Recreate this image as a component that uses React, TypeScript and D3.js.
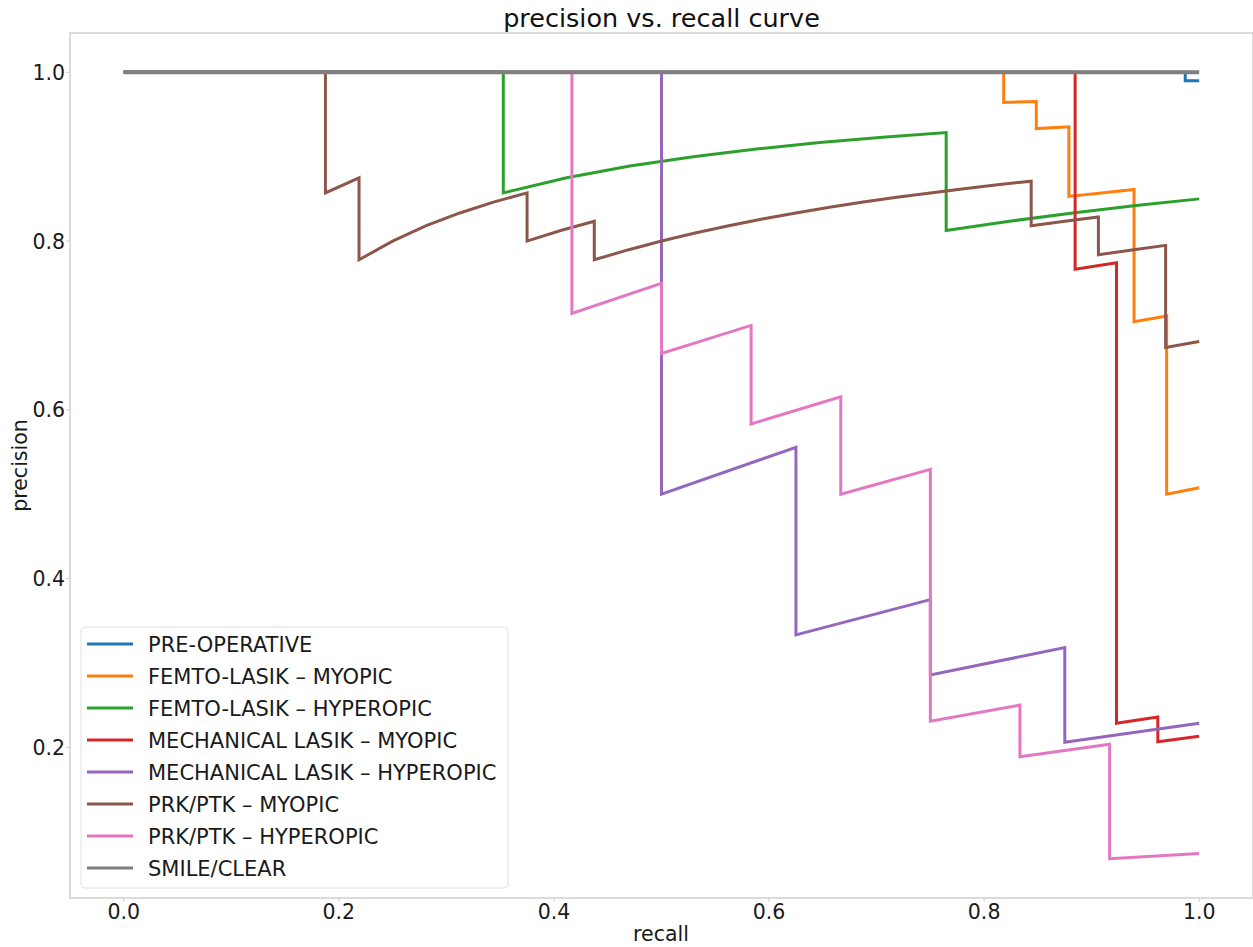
import React from 'react';
import * as d3 from 'd3';

// series labels + tab10 colours, in plot order
const labels = [
    'PRE-OPERATIVE',
    'FEMTO-LASIK – MYOPIC',
    'FEMTO-LASIK – HYPEROPIC',
    'MECHANICAL LASIK – MYOPIC',
    'MECHANICAL LASIK – HYPEROPIC',
    'PRK/PTK – MYOPIC',
    'PRK/PTK – HYPEROPIC',
    'SMILE/CLEAR',
];
const colors = ['#1f77b4', '#ff7f0e', '#2ca02c', '#d62728', '#9467bd', '#8c564b', '#e377c2', '#7f7f7f'];

// recall / precision pairs
const preOpRecall = [0, 0.987, 0.987, 1];
const preOpPrecision = [1, 1, 0.99, 0.99];

const femtoMyoRecall = [0, 0.8182, 0.8182, 0.8485, 0.8485, 0.8788, 0.8788, 0.9091, 0.9394, 0.9394, 0.9697, 0.9697, 1];
const femtoMyoPrecision = [1, 1, 0.9643, 0.9655, 0.9333, 0.9355, 0.8529, 0.8571, 0.8611, 0.7045, 0.7111, 0.5, 0.5077];

const femtoHypRecall = [0, 0.3529, 0.3529, 0.4118, 0.4706, 0.5294, 0.5882, 0.6471, 0.7059, 0.7647, 0.7647, 0.8235, 0.8824, 0.9412, 1];
const femtoHypPrecision = [1, 1, 0.8571, 0.875, 0.8889, 0.9, 0.9091, 0.9167, 0.9231, 0.9286, 0.8125, 0.8235, 0.8333, 0.8421, 0.85];

const mechMyoRecall = [0, 0.8846, 0.8846, 0.9231, 0.9231, 0.9615, 0.9615, 1];
const mechMyoPrecision = [1, 1, 0.7667, 0.7742, 0.2286, 0.2358, 0.2066, 0.2131];

const mechHypRecall = [0, 0.5, 0.5, 0.625, 0.625, 0.75, 0.75, 0.875, 0.875, 1];
const mechHypPrecision = [1, 1, 0.5, 0.5556, 0.3333, 0.375, 0.2857, 0.3182, 0.2059, 0.2286];

const prkMyoRecall = [0, 0.1875, 0.1875, 0.21875, 0.21875, 0.25, 0.28125, 0.3125, 0.34375, 0.375, 0.375, 0.40625, 0.4375, 0.4375,
    0.46875, 0.5, 0.53125, 0.5625, 0.59375, 0.625, 0.65625, 0.6875, 0.71875, 0.75, 0.78125, 0.8125, 0.84375, 0.84375,
    0.875, 0.90625, 0.90625, 0.9375, 0.96875, 0.96875, 1];
const prkMyoPrecision = [1, 1, 0.8571, 0.875, 0.7778, 0.8, 0.8182, 0.8333, 0.8462, 0.8571, 0.8, 0.8125, 0.8235, 0.7778,
    0.7895, 0.8, 0.8095, 0.8182, 0.8261, 0.8333, 0.84, 0.8462, 0.8519, 0.8571, 0.8621, 0.8667, 0.871, 0.8182,
    0.8235, 0.8286, 0.7838, 0.7895, 0.7949, 0.6739, 0.6809];

const prkHypRecall = [0, 0.4167, 0.4167, 0.5, 0.5, 0.5833, 0.5833, 0.6667, 0.6667, 0.75, 0.75, 0.8333, 0.8333, 0.9167, 0.9167, 1];
const prkHypPrecision = [1, 1, 0.7143, 0.75, 0.6667, 0.7, 0.5833, 0.6154, 0.5, 0.5294, 0.2308, 0.25, 0.1887, 0.2037, 0.0679, 0.0741];

const smileRecall = [0, 1];
const smilePrecision = [1, 1];

const xTicks = [0, 0.2, 0.4, 0.6, 0.8, 1.0];
const yTicks = [0.2, 0.4, 0.6, 0.8, 1.0];

const W = 1253, H = 947;
const left = 70, right = 1253, top = 33, bottom = 898;

const App = () => {
    const series = [
        [preOpRecall, preOpPrecision],
        [femtoMyoRecall, femtoMyoPrecision],
        [femtoHypRecall, femtoHypPrecision],
        [mechMyoRecall, mechMyoPrecision],
        [mechHypRecall, mechHypPrecision],
        [prkMyoRecall, prkMyoPrecision],
        [prkHypRecall, prkHypPrecision],
        [smileRecall, smilePrecision],
    ];

    const x = d3.scaleLinear().domain([-0.05, 1.05]).range([left, right]);
    const y = d3.scaleLinear().domain([0.0214, 1.0466]).range([bottom, top]);
    const line = d3.line<[number, number]>().x(d => x(d[0])).y(d => y(d[1]));

    const legX = 81, legY = 627, rowH = 32;

    return (
        <svg width={W} height={H} style={{ position: 'absolute', left: 0, top: 0, background: '#fff' }}
            fontFamily="'DejaVu Sans', sans-serif">
            <rect x={0} y={0} width={W} height={H} fill="#fff" />
            <text x={(left + right) / 2} y={27} textAnchor="middle" fontSize={25.5} fill="#111">precision vs. recall curve</text>

            {/* ticks */}
            {xTicks.map(t => (
                <g key={'x' + t}>
                    <line x1={x(t)} x2={x(t)} y1={bottom} y2={bottom + 4} stroke="#ccc" />
                    <text x={x(t)} y={919} textAnchor="middle" fontSize={20.5} fill="#1a1a1a">{t.toFixed(1)}</text>
                </g>
            ))}
            {yTicks.map(t => (
                <g key={'y' + t}>
                    <line x1={left - 4} x2={left} y1={y(t)} y2={y(t)} stroke="#ccc" />
                    <text x={65} y={y(t) + 7.5} textAnchor="end" fontSize={20.5} fill="#1a1a1a">{t.toFixed(1)}</text>
                </g>
            ))}
            <text x={661} y={941} textAnchor="middle" fontSize={20.5} fill="#1a1a1a">recall</text>
            <text transform={`translate(27, ${(top + bottom) / 2}) rotate(-90)`} textAnchor="middle" fontSize={20.5} fill="#1a1a1a">precision</text>

            {/* curves */}
            {series.map(([r, p], i) => (
                <path key={labels[i]} d={line(r.map((v, j) => [v, p[j]]) as [number, number][]) || ''}
                    fill="none" stroke={colors[i]} strokeWidth={i === 7 ? 4 : 3} strokeLinejoin="miter" />
            ))}

            <rect x={left} y={top} width={right - left} height={bottom - top} fill="none" stroke="#cfcfcf" strokeWidth={1.5} />

            {/* legend */}
            <rect x={legX} y={legY} width={427} height={261} rx={4} fill="#fff" fillOpacity={0.8} stroke="#e0e0e0" />
            {labels.map((lab, i) => (
                <g key={lab}>
                    <line x1={87} x2={133} y1={644 + i * rowH} y2={644 + i * rowH} stroke={colors[i]} strokeWidth={3} />
                    <text x={148} y={644 + i * rowH + 7.7} fontSize={21} fill="#1a1a1a">{lab}</text>
                </g>
            ))}
        </svg>
    );
};

export default App;
